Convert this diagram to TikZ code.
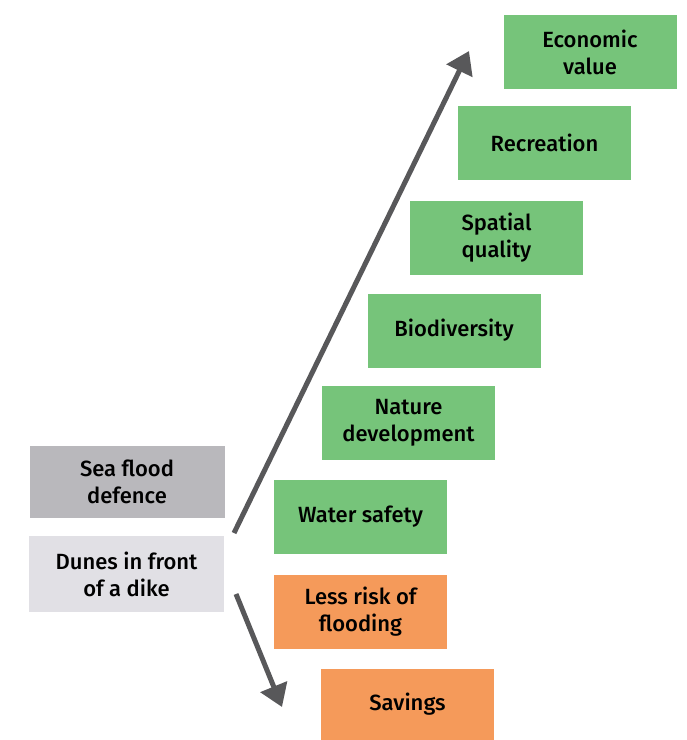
\documentclass[tikz,border=0pt]{standalone}
\usepackage{fontspec}
\setmainfont{Fira Sans}
\newfontfamily\labelfont{Fira Sans Medium}
\usetikzlibrary{arrows.meta}
\definecolor{boxgreen}{HTML}{76C47A}
\definecolor{boxorange}{HTML}{F59A5A}
\definecolor{boxgray}{HTML}{B9B8BC}
\definecolor{boxlight}{HTML}{E1E0E5}
\definecolor{arrowgray}{HTML}{58585A}
\begin{document}
\begin{tikzpicture}[x=1pt,y=-1pt,
  card/.style={minimum width=173pt,minimum height=74pt,inner sep=0pt,
    align=center,font=\labelfont\fontsize{22}{27}\selectfont,text=black},
  benefit/.style={card,fill=boxgreen},
  saving/.style={card,fill=boxorange},
  topic/.style={card,minimum width=195pt},
  trend/.style={draw=arrowgray,line width=5pt,-{Triangle[length=22pt,width=28pt]}}]
\useasboundingbox (0,0) rectangle (687,740);
% benefits staircase
\node[benefit] (eco) at (590,52) {Economic\\value};
\node[benefit] (rec) at (544.5,142.5) {Recreation};
\node[benefit] (spa) at (496.5,237.5) {Spatial\\quality};
\node[benefit] (bio) at (454,330.5) {Biodiversity};
\node[benefit] (nat) at (408.5,422.5) {Nature\\development};
\node[benefit] (wat) at (360.5,516.5) {Water safety};
% cost side
\node[saving] (risk) at (360.5,611.5) {Less risk of\\flooding};
\node[saving,minimum height=71pt] (sav) at (407.5,704.5) {Savings};
% subject
\node[topic,fill=boxgray,minimum height=72pt] (sea) at (127,481.5) {Sea flood\\defence};
\node[topic,fill=boxlight,minimum height=76pt] (dune) at (126.5,574) {Dunes in front\\of a dike};
% trend arrows
\coordinate (upS) at (234,533);
\coordinate (upE) at (469,51);
\coordinate (dnS) at (236,594);
\coordinate (dnE) at (282,707);
\draw[trend] (upS) -- (upE);
\draw[trend] (dnS) -- (dnE);
\end{tikzpicture}
\end{document}
